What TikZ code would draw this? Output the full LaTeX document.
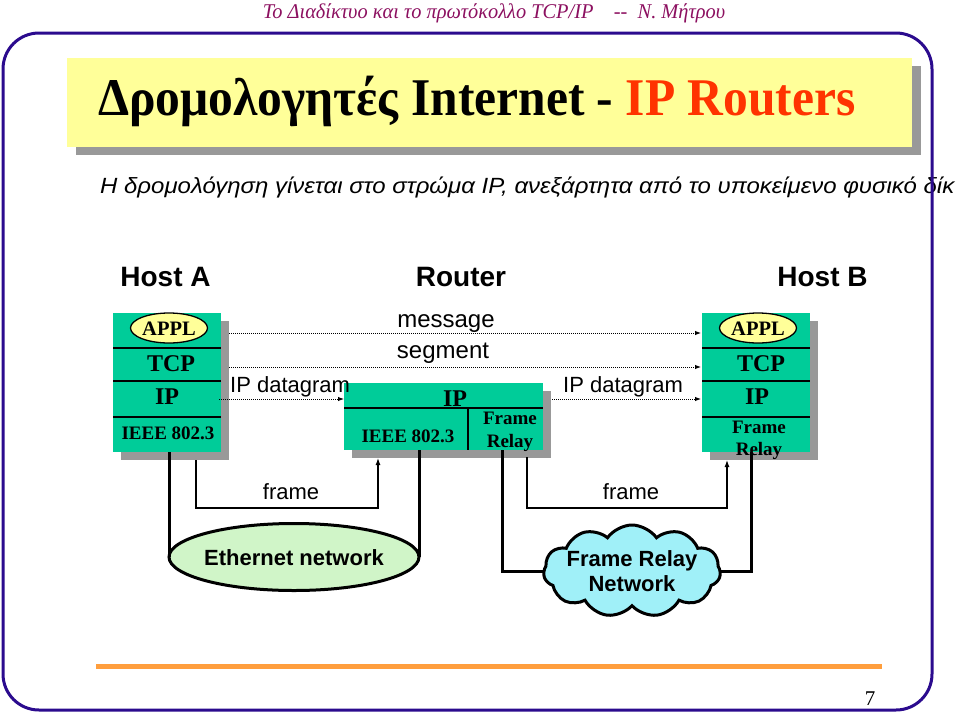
\documentclass[tikz,border=0pt]{standalone}
\usepackage{fontspec}
\setmainfont{Liberation Serif}
\setsansfont{Liberation Sans}
\usepackage{graphicx}
\usetikzlibrary{shapes.geometric,shapes.symbols,shadows,arrows.meta,calc}
\definecolor{tealc}{HTML}{00CC99}
\definecolor{shadowg}{HTML}{999999}
\definecolor{yellowf}{HTML}{FFFF99}
\definecolor{ethgreen}{HTML}{D0F5C8}
\definecolor{cloudc}{HTML}{A0F0F8}
\definecolor{framec}{HTML}{2B0B8E}
\definecolor{orangec}{HTML}{FF9E3D}
\definecolor{headc}{HTML}{8C1060}
\definecolor{titlered}{HTML}{FF3300}
\newcommand\pxsize[1]{\fontsize{#1}{#1}\selectfont}
\begin{document}
\begin{tikzpicture}[x=1pt,y=-1pt,
  stackbox/.style={fill=tealc,inner sep=0,outer sep=0,
    drop shadow={shadow xshift=8pt,shadow yshift=-8pt,fill=shadowg,opacity=1}},
  divider/.style={line width=1.5},
  applov/.style={ellipse,draw,line width=1.3,fill=yellowf,minimum width=77,minimum height=30,inner sep=0},
  layertxt/.style={anchor=base,inner sep=0,font=\pxsize{24}\bfseries},
  smalltxt/.style={anchor=base,inner sep=0,font=\pxsize{19}\bfseries},
  sanstxt/.style={anchor=base,inner sep=0,font=\sffamily\pxsize{22}},
  hosttxt/.style={anchor=base,inner sep=0,font=\sffamily\bfseries\pxsize{28}},
  dotarrow/.style={densely dotted,line width=1,-{Latex[length=6pt,width=4.5pt]}},
  thickline/.style={line width=3},
  thinarrow/.style={line width=1.2,-{Latex[length=7pt,width=5pt]}}]
\useasboundingbox (0,0) rectangle (959,718);

% header
\node[inner sep=0,text=headc] (hdr) at (494,13)
  {\pxsize{21}\itshape\scalebox{0.97}[1]{Το Διαδίκτυο και το πρωτόκολλο TCP/IP\quad -{}- \ Ν. Μήτρου}};

% title
\node[fill=yellowf,inner sep=0,minimum width=845,minimum height=89,
  drop shadow={shadow xshift=9pt,shadow yshift=-8pt,fill=shadowg,opacity=1}] (titlebox) at (489.5,102.5) {};
\node[anchor=base west,inner sep=0] (title) at (98,115)
  {\pxsize{53}\bfseries\scalebox{0.935}[1]{Δρομολογητές Internet - \textcolor{titlered}{IP Routers}}};

% subtitle
\node[anchor=base west,inner sep=0] (sub) at (100,193)
  {\sffamily\itshape\pxsize{22}\scalebox{1.09}[1]{Η δρομολόγηση γίνεται στο στρώμα IP, ανεξάρτητα από το υποκείμενο φυσικό δίκ}};

% frame
\draw[framec,line width=3,rounded corners=36] (3,33) rectangle (932,710);

% host labels
\node[hosttxt] (hA) at (165.5,286) {Host A};
\node[hosttxt] (hR) at (461,286) {Router};
\node[hosttxt] (hB) at (822.5,286) {Host B};

% Host A stack
\node[stackbox,minimum width=108,minimum height=139] (A) at (167,382.5) {};
\draw[divider] (113,348) -- (221,348);
\draw[divider] (113,381) -- (221,381);
\draw[divider] (113,417) -- (221,417);
\node[applov] (applA) at (169,328) {};
\node[anchor=base,inner sep=0,font=\pxsize{20.5}\bfseries] (applAt) at (169,335) {APPL};
\node[layertxt] (tcpA) at (171,371) {TCP};
\node[layertxt] (ipA) at (167,404) {IP};
\node[smalltxt] (ieeeA) at (168,439) {IEEE 802.3};

% Router
\node[stackbox,minimum width=199,minimum height=67] (R) at (443.5,416.5) {};
\draw[divider] (344,408) -- (543,408);
\draw[divider] (468,408) -- (468,450);
\node[layertxt] (ipR) at (455,406) {IP};
\node[smalltxt] (ieeeR) at (408,442) {IEEE 802.3};
\node[smalltxt] (frR1) at (510,424) {Frame};
\node[smalltxt] (frR2) at (510,447) {Relay};

% Host B stack
\node[stackbox,minimum width=108,minimum height=139] (B) at (756,382.5) {};
\draw[divider] (702,348) -- (810,348);
\draw[divider] (702,381) -- (810,381);
\draw[divider] (702,417) -- (810,417);
\node[applov] (applB) at (758,328) {};
\node[anchor=base,inner sep=0,font=\pxsize{20.5}\bfseries] (applBt) at (758,335) {APPL};
\node[layertxt] (tcpB) at (761,371) {TCP};
\node[layertxt] (ipB) at (757,404) {IP};
\node[smalltxt] (frB1) at (759,433) {Frame};
\node[smalltxt] (frB2) at (759,455) {Relay};

% peer arrows
\coordinate (mA) at (229,333); \coordinate (mB) at (701,333);
\coordinate (sA) at (229,367); \coordinate (sB) at (701,367);
\coordinate (dA) at (219,399); \coordinate (dR) at (344,399);
\coordinate (dR2) at (552,399); \coordinate (dB) at (701,399);
\draw[dotarrow] (mA) -- (mB);
\draw[dotarrow] (sA) -- (sB);
\draw[dotarrow] (dA) -- (dR);
\draw[dotarrow] (dR2) -- (dB);
\node[anchor=base,inner sep=0,font=\sffamily\pxsize{24}] (msg) at (446,327) {message};
\node[anchor=base,inner sep=0,font=\sffamily\pxsize{24}] (seg) at (443,358) {segment};
\node[sanstxt,anchor=base west] (dgl) at (230,392) {IP datagram};
\node[sanstxt,anchor=base west] (dgr) at (563,392) {IP datagram};

% networks
\node[ellipse,draw,line width=3,fill=ethgreen,minimum width=250,minimum height=67,inner sep=0,outer sep=0] (eth) at (294,557) {};
\node[anchor=base,inner sep=0,font=\sffamily\bfseries\pxsize{22}] (etht) at (294,565) {Ethernet network};
\node[cloud,cloud puffs=11,cloud puff arc=110,aspect=1.9,draw,line width=3,fill=cloudc,
  minimum width=177,minimum height=92,inner sep=0,outer sep=0] (cloud) at (632,571) {};
\node[anchor=base,inner sep=0,font=\sffamily\bfseries\pxsize{22}] (cl1) at (632,566) {Frame Relay};
\node[anchor=base,inner sep=0,font=\sffamily\bfseries\pxsize{22}] (cl2) at (632,591) {Network};

% physical links
\coordinate (aPhy) at (169,452);
\coordinate (rEth) at (419,450);
\coordinate (rFr) at (502,450);
\coordinate (bPhy) at (751,452);
\draw[thickline] (aPhy) -- (aPhy |- eth.west);
\draw[thickline] (rEth) -- (rEth |- eth.east);
\draw[thickline] (rFr) |- (cloud.west);
\draw[thickline] (bPhy) |- (cloud.east);

% frame arrows
\coordinate (fA) at (196,460); \coordinate (fR) at (378,458);
\coordinate (fR2) at (527,457); \coordinate (fB) at (727,460);
\draw[thinarrow] (fA) |- (287,508) -| (fR);
\draw[thinarrow] (fR2) |- (627,508) -| (fB);
\node[sanstxt] (frl) at (291,499) {frame};
\node[sanstxt] (frr) at (631,499) {frame};

% footer
\draw[orangec,line width=5] (96,666) -- (882,666);
\node[anchor=base,inner sep=0,font=\pxsize{21}] (pg) at (870,705) {7};
\end{tikzpicture}
\end{document}
